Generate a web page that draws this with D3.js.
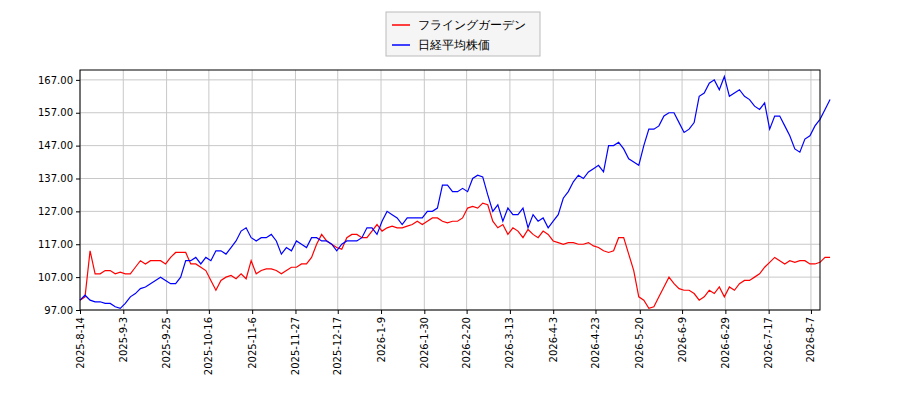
<!DOCTYPE html><html><head><meta charset="utf-8"><script src="https://cdn.jsdelivr.net/npm/d3@7"></script>
<style>body{margin:0;background:#fff}text{font-family:"DejaVu Sans",sans-serif}</style></head><body><svg width="900" height="400"></svg>
<script>
const seriesNames=["フライングガーデン","日経平均株価"];
const red=[100,101,115,108,108,109,109,108,108.5,108,108,110,112,111,112,112,112,111,113,114.5,114.5,114.5,111,111,110,109,106,103,106,107,107.5,106.5,108,106.5,112,108,109,109.5,109.5,109,108,109,110,110,111,111,113,117,120,118,117,116,115.5,119,120,120,119,119,121,123,121,122,122.5,122,122,122.5,123,124,123,124,125,125,124,123.5,124,124,125,128,128.5,128,129.5,129,124,122,123,120,122,121,119,121.5,120,119,121,120,118,117.5,117,117.5,117.5,117,117,117.5,116.5,116,115,114.5,115,119,119,114,109,101,100,97.5,98,101,104,107,105,103.5,103,103,102,100,101,103,102,104,101,104,103,105,106,106,107,108,110,111.5,113,112,111,112,111.5,112,112,111,111,111.5,113,113];
const blue=[100,101.5,100,99.5,99.5,99,99,98,97.5,99,101,102,103.5,104,105,106,107,106,105,105,107,112,112,113,111,113,112,115,115,114,116,118,121,122,119,118,119,119,120,118,114,116,115,118,117,116,119,119,118,118,117,115,117,118,118,118,119,122,122,120,124,127,126,125,123,125,125,125,125,127,127,128,135,135,133,133,134,133,137,138,137.5,132,127,129,124,128,126,126,128,122,126,124,125,122,124,126,131,133,136,138,137,139,140,141,139,147,147,148,146,143,142,141,147,152,152,153,156,157,157,154,151,152,154,162,163,166,167,164,168,162,163,164,162,161,159,158,160,152,156,156,153,150,146,145,149,150,153,155,158,161];
const yTicks=[97,107,117,127,137,147,157,167];
const xLabels=["2025-8-14","2025-9-3","2025-9-25","2025-10-16","2025-11-6","2025-11-27","2025-12-17","2026-1-9","2026-1-30","2026-2-20","2026-3-13","2026-4-3","2026-4-23","2026-5-20","2026-6-9","2026-6-29","2026-7-17","2026-8-7"];
const xTickIdx=[0,8.6,17.2,25.6,34.2,42.8,51.2,59.8,68.4,76.8,85.4,94,102.4,111.2,119.6,128.2,136.8,145.2];
const svg=d3.select("svg");
const L=80,R=820,T=70,B=310;
const n=Math.max(red.length,blue.length);
const x=d3.scaleLinear().domain([0,147]).range([L,R]);
const y=d3.scaleLinear().domain([97,170]).range([B,T]);
const g=svg.append("g");
g.selectAll(".gy").data(yTicks).join("line").attr("x1",L).attr("x2",R).attr("y1",d=>y(d)).attr("y2",d=>y(d)).attr("stroke","#c8c8c8");
g.selectAll(".gx").data(xTickIdx).join("line").attr("x1",d=>x(d)).attr("x2",d=>x(d)).attr("y1",T).attr("y2",B).attr("stroke","#c8c8c8");
const ln=d3.line().x((d,i)=>x(i)).y(d=>y(d));
g.append("path").attr("d",ln(red)).attr("fill","none").attr("stroke","red").attr("stroke-width",1.2);
g.append("path").attr("d",ln(blue)).attr("fill","none").attr("stroke","blue").attr("stroke-width",1.2);
svg.append("rect").attr("x",L).attr("y",T).attr("width",R-L).attr("height",B-T).attr("fill","none").attr("stroke","#000");
const ya=svg.append("g").attr("transform",`translate(${L},0)`).call(d3.axisLeft(y).tickValues(yTicks).tickFormat(d3.format(".2f")).tickSize(4));
const xa=svg.append("g").attr("transform",`translate(0,${B})`).call(d3.axisBottom(x).tickValues(xTickIdx).tickFormat((d,i)=>xLabels[i]).tickSize(4));
[ya,xa].forEach(a=>{a.select(".domain").remove();a.selectAll("text").attr("font-size",10).attr("fill","#000").style("font-family","DejaVu Sans");});
xa.selectAll("text").attr("text-anchor","end").attr("dx",0).attr("dy",0).attr("transform","translate(-4,7) rotate(-90)");
const lg=svg.append("g");
lg.append("rect").attr("x",386).attr("y",12).attr("width",154).attr("height",44).attr("fill","#f5f5f5").attr("stroke","#bbb");
["red","blue"].forEach((c,i)=>{lg.append("line").attr("x1",392).attr("x2",410).attr("y1",25+i*20).attr("y2",25+i*20).attr("stroke",c).attr("stroke-width",1.5);
lg.append("text").attr("x",418).attr("y",29+i*20).attr("font-size",12).text(seriesNames[i]);});
</script></body></html>
